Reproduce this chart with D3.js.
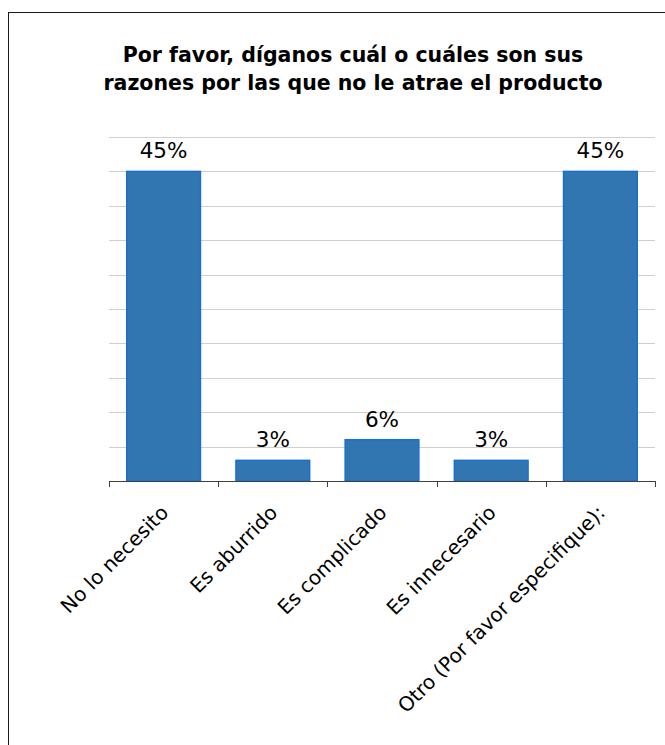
<!DOCTYPE html>
<html>
<head>
<meta charset="utf-8">
<script src="https://cdn.jsdelivr.net/npm/d3@7"></script>
<style>
  html, body { margin: 0; padding: 0; background: #fff; }
  svg { display: block; }
</style>
</head>
<body>
<svg id="chart" width="665" height="745"></svg>
<script>
// Survey responses: reasons the product is not appealing
const categories = [
  "No lo necesito",
  "Es aburrido",
  "Es complicado",
  "Es innecesario",
  "Otro (Por favor especifique):"
];
const percentages = [45, 3, 6, 3, 45];
const gridTicks = [0, 5, 10, 15, 20, 25, 30, 35, 40, 45, 50];
const titleLines = [
  "Por favor, díganos cuál o cuáles son sus",
  "razones por las que no le atrae el producto"
];

const svg = d3.select("#chart");
const font = "DejaVu Sans, Verdana, sans-serif";

// Outer frame of the chart area
svg.append("rect")
  .attr("x", 8.5).attr("y", 12.5)
  .attr("width", 700).attr("height", 760)
  .attr("fill", "#fff")
  .attr("stroke", "#1a1a1a")
  .attr("stroke-width", 1);

const plot = { left: 109, right: 655, top: 137, bottom: 481 };

const x = d3.scaleBand()
  .domain(categories)
  .range([plot.left, plot.right])
  .paddingInner(0.325)
  .paddingOuter(0.1625);

const y = d3.scaleLinear()
  .domain([0, 50])
  .range([plot.bottom, plot.top]);

// Title
svg.append("text")
  .attr("font-family", font)
  .attr("font-weight", "bold")
  .attr("font-size", 20.5)
  .attr("fill", "#000")
  .attr("text-anchor", "middle")
  .selectAll("tspan")
  .data(titleLines)
  .join("tspan")
  .attr("x", 353)
  .attr("y", (d, i) => 62 + i * 28)
  .text(d => d);

// Horizontal gridlines
svg.append("g")
  .selectAll("line")
  .data(gridTicks.filter(t => t > 0))
  .join("line")
  .attr("x1", plot.left).attr("x2", plot.right)
  .attr("y1", d => Math.round(y(d)) + 0.5)
  .attr("y2", d => Math.round(y(d)) + 0.5)
  .attr("stroke", "#d0d0d0")
  .attr("stroke-width", 1);

// Bars
svg.append("g")
  .selectAll("rect")
  .data(percentages)
  .join("rect")
  .attr("x", (d, i) => x(categories[i]))
  .attr("y", d => y(d))
  .attr("width", x.bandwidth())
  .attr("height", d => y(0) - y(d))
  .attr("fill", "#3276b1")
  .attr("stroke", "#1a6fd3")
  .attr("stroke-width", 1.5);

// Value labels
svg.append("g")
  .selectAll("text")
  .data(percentages)
  .join("text")
  .attr("x", (d, i) => x(categories[i]) + x.bandwidth() / 2)
  .attr("y", d => y(d) - 13)
  .attr("text-anchor", "middle")
  .attr("font-family", font)
  .attr("font-size", 21.5)
  .attr("fill", "#000")
  .text(d => d + "%");

// Category axis: boundary ticks between bands
const bounds = categories.map(c => x(c) - x.step() * x.paddingInner() / 2);
bounds.push(plot.right);
const axisG = svg.append("g");
axisG.append("line")
  .attr("x1", plot.left).attr("x2", plot.right)
  .attr("y1", plot.bottom + 0.5).attr("y2", plot.bottom + 0.5)
  .attr("stroke", "#404040");
axisG.selectAll("line.tick")
  .data(bounds)
  .join("line")
  .attr("class", "tick")
  .attr("x1", d => Math.round(d) + 0.5).attr("x2", d => Math.round(d) + 0.5)
  .attr("y1", plot.bottom).attr("y2", plot.bottom + 6)
  .attr("stroke", "#404040");

// Rotated category labels
axisG.selectAll("text")
  .data(categories)
  .join("text")
  .attr("transform", d => `translate(${x(d) + x.bandwidth() / 2 + 1},${plot.bottom + 28}) rotate(-45)`)
  .attr("text-anchor", "end")
  .attr("dy", "0.35em")
  .attr("font-family", font)
  .attr("font-size", 20)
  .attr("fill", "#000")
  .text(d => d);
</script>
</body>
</html>
